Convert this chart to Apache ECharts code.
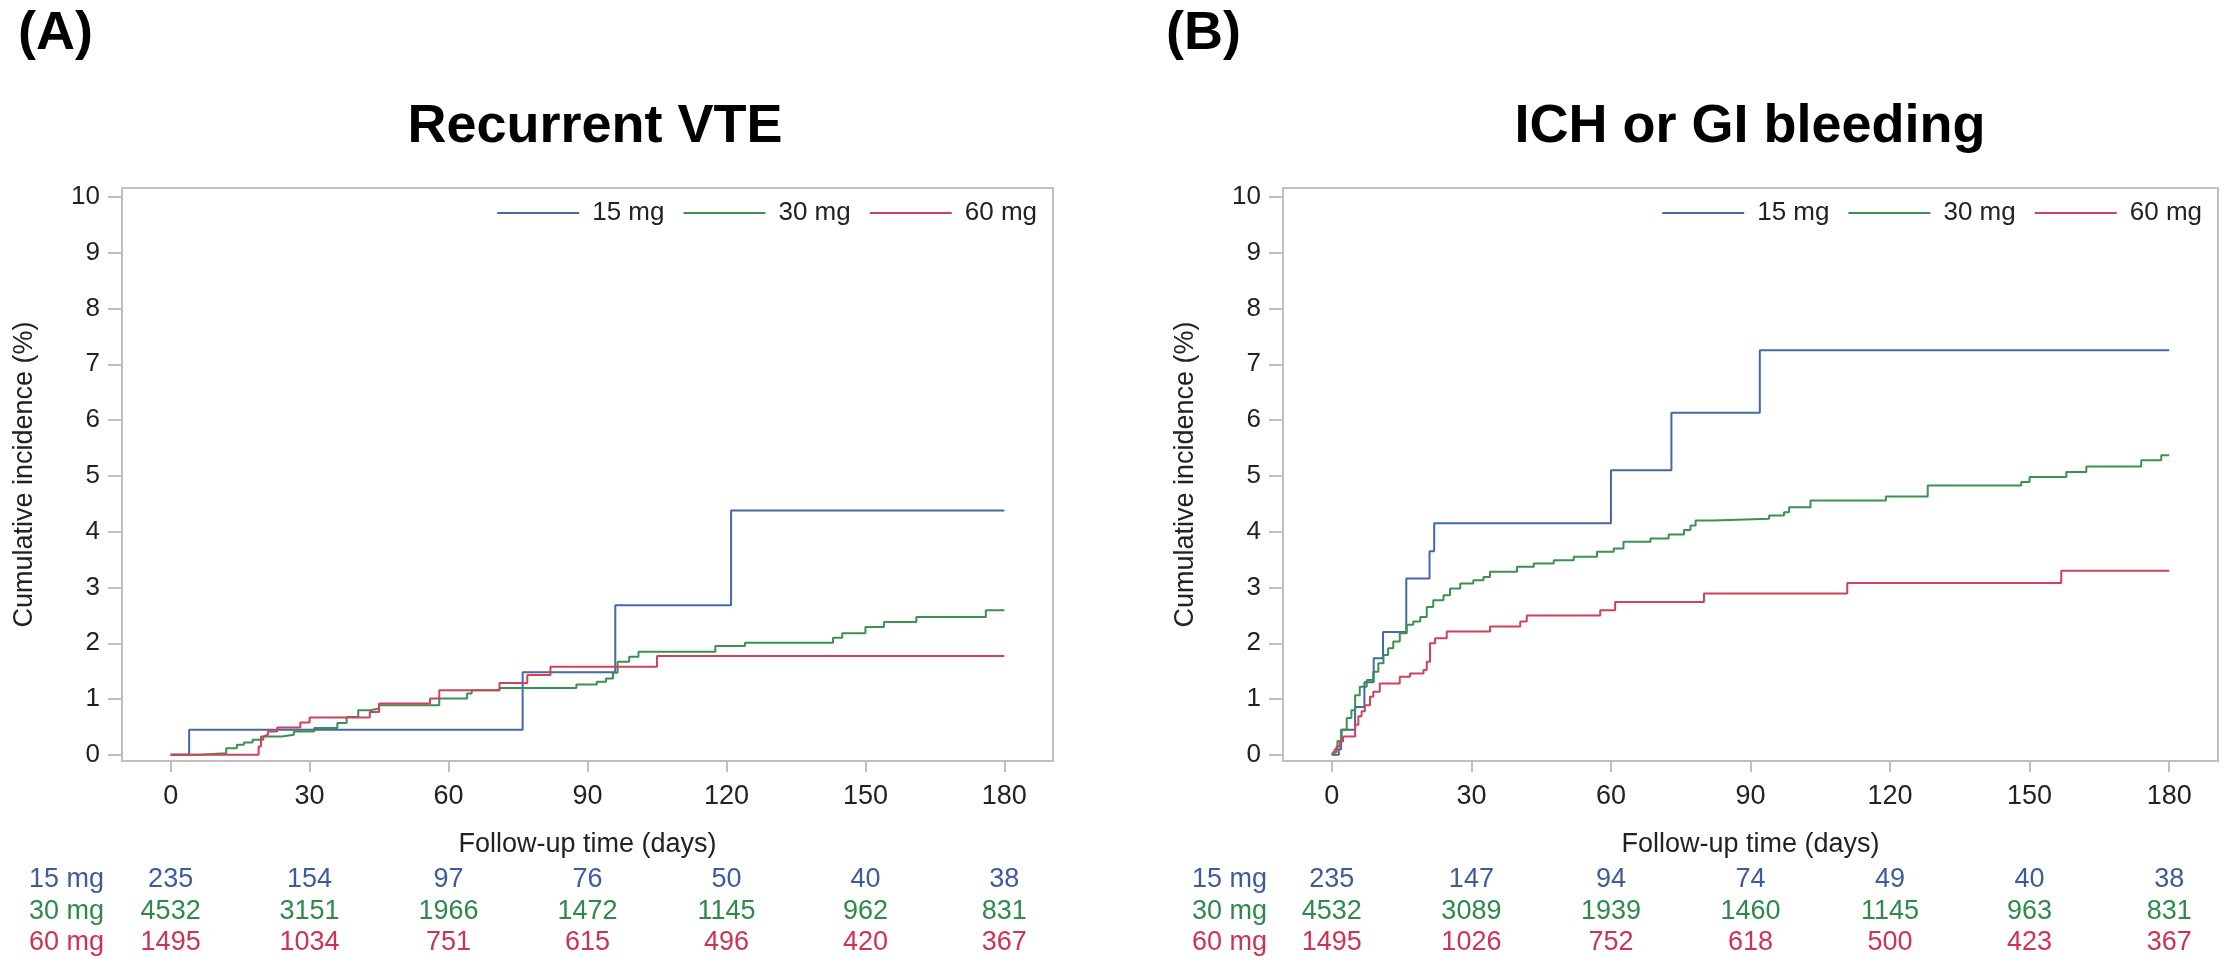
<!DOCTYPE html>
<html lang="en" style="height: 100%">
<head>
    <meta charset="UTF-8">
    <title>Cumulative incidence</title>
    <script type="text/javascript" src="https://cdn.jsdelivr.net/npm/echarts@6.0.0/dist/echarts.min.js"></script>
</head>
<body style="height: 100%;margin: 0;background:#fff">

<div id="contar" style="width: 2232px;height: 966px"></div>

<script type="text/javascript">
    // tick values
    var xTicks = [0, 30, 60, 90, 120, 150, 180];
    var yTicks = [0, 1, 2, 3, 4, 5, 6, 7, 8, 9, 10];
    var doseNames = ['15 mg', '30 mg', '60 mg'];

    // (A) Recurrent VTE  [day, %]
    var vte15 = [[0,0],[4,0.45],[76,1.48],[96,2.68],[121,4.38],[180,4.38]];
    var vte30 = [[0,0],[6,0.03],[12,0.12],[14.3,0.18],[15.8,0.22],[17.7,0.27],[20,0.33],[24,0.36],[26.6,0.42],[31,0.48],
        [36,0.57],[38,0.68],[40.5,0.8],[43,0.83],[45,0.89],[58,1.01],[64,1.1],[65,1.16],[71,1.2],[87.6,1.26],[92,1.31],
        [94,1.37],[95.5,1.47],[96.5,1.67],[99,1.76],[101,1.85],[117.6,1.95],[124,2.01],[143,2.1],[145,2.18],[150,2.29],
        [154,2.38],[161,2.47],[176,2.59],[180,2.59]];
    var vte60 = [[0,0],[19,0.15],[19.5,0.33],[20.1,0.36],[21,0.42],[23,0.49],[28,0.58],[30,0.67],[43,0.77],[45,0.92],
        [56,1.01],[58,1.16],[71,1.29],[77,1.43],[82,1.58],[105,1.77],[180,1.77]];

    // (B) ICH or GI bleeding  [day, %]
    var ich15 = [[0,0],[1.5,0.1],[2,0.45],[5,0.86],[7,1.3],[9,1.73],[11,2.2],[16,3.16],[21,3.65],[22,4.15],
        [60,5.1],[73,6.13],[92,7.25],[180,7.25]];
    var ich30 = [[0,0],[0.6,0.1],[1.2,0.25],[2.1,0.45],[3.2,0.66],[4.2,0.8],[5,1.07],[6,1.22],[7.5,1.34],[8.9,1.49],
        [10,1.64],[11.1,1.79],[12.1,1.91],[13.2,2.03],[14.6,2.18],[16.1,2.33],[17.5,2.39],[19,2.47],[20.4,2.65],
        [21.8,2.77],[24,2.86],[25.4,2.98],[27.6,3.07],[30.4,3.13],[32.6,3.19],[34,3.28],[39.8,3.37],[43.4,3.43],
        [47.7,3.49],[52,3.55],[57,3.64],[60.6,3.7],[62.7,3.82],[68.5,3.88],[72.4,3.95],[75.7,4.03],[77.1,4.11],
        [78.2,4.2],[82.1,4.23],[94,4.29],[97.2,4.35],[98.3,4.44],[102.9,4.56],[119.1,4.63],[128.1,4.83],[148.2,4.89],
        [150,4.98],[157.9,5.07],[162.2,5.17],[174,5.28],[178.3,5.37],[180,5.37]];
    var ich60 = [[0,0],[0.3,0.05],[1,0.15],[1.7,0.24],[2.4,0.33],[5,0.54],[5.7,0.69],[6.4,0.78],[7.1,0.89],[8.2,1.04],
        [8.9,1.13],[10.3,1.28],[14.6,1.4],[16.8,1.46],[19.7,1.52],[20.4,1.67],[21.1,2.0],[22.2,2.09],[24.7,2.21],
        [34,2.3],[40.5,2.39],[41.9,2.5],[57.7,2.59],[60.9,2.74],[80,2.89],[110.8,3.08],[156.8,3.3],[180,3.3]];

    // number at risk
    var riskA15 = [235, 154, 97, 76, 50, 40, 38];
    var riskA30 = [4532, 3151, 1966, 1472, 1145, 962, 831];
    var riskA60 = [1495, 1034, 751, 615, 496, 420, 367];
    var riskB15 = [235, 147, 94, 74, 49, 40, 38];
    var riskB30 = [4532, 3089, 1939, 1460, 1145, 963, 831];
    var riskB60 = [1495, 1026, 752, 618, 500, 423, 367];

    var lineColors = ['#4468A8', '#3A9150', '#D2415A'];
    var textColors = ['#3D5C9C', '#2E8A4B', '#CF3351'];
    var frameColor = '#BFBFBF';
    var fontFam = 'Liberation Sans, Arial, sans-serif';
    var rowOffsets = [119, 151, 182];

    var grids = [
        {left: 122, top: 188, width: 931, height: 573, show: true, borderColor: frameColor, borderWidth: 2},
        {left: 1283, top: 188, width: 935, height: 573, show: true, borderColor: frameColor, borderWidth: 2}
    ];

    function mainX(g) {
        return {
            gridIndex: g, type: 'value', min: -10.5, max: 190.5, position: 'bottom',
            axisLine: {show: true, onZero: false, lineStyle: {color: frameColor, width: 2}},
            axisTick: {show: true, customValues: xTicks, length: 11, lineStyle: {color: frameColor, width: 2}},
            axisLabel: {customValues: xTicks, fontSize: 27, color: '#222', margin: 22, fontFamily: fontFam},
            splitLine: {show: false},
            name: 'Follow-up time (days)', nameLocation: 'middle', nameGap: 70,
            nameTextStyle: {fontSize: 27, color: '#222', fontFamily: fontFam}
        };
    }

    function riskX(g, r, counts) {
        return {
            gridIndex: g, type: 'value', min: -10.5, max: 190.5, position: 'bottom', offset: rowOffsets[r],
            axisLine: {show: false, onZero: false}, axisTick: {show: false}, splitLine: {show: false},
            axisLabel: {
                customValues: xTicks, margin: 0, verticalAlign: 'middle', fontSize: 27,
                color: textColors[r], fontFamily: fontFam,
                formatter: function (v) { return String(counts[Math.round(v / 30)]); }
            },
            name: doseNames[r], nameLocation: 'start', nameGap: g === 0 ? 18 : 16,
            nameTextStyle: {fontSize: 27, color: textColors[r], fontFamily: fontFam}
        };
    }

    function mainY(g) {
        return {
            gridIndex: g, type: 'value', min: -0.11, max: 10.16,
            axisLine: {show: true, onZero: false, lineStyle: {color: frameColor, width: 2}},
            axisTick: {show: true, customValues: yTicks, length: 14, lineStyle: {color: frameColor, width: 2}},
            axisLabel: {customValues: yTicks, fontSize: 26, color: '#222', margin: 22, fontFamily: fontFam},
            splitLine: {show: false},
            name: 'Cumulative incidence (%)', nameLocation: 'middle', nameGap: 84,
            nameTextStyle: {fontSize: 27, color: '#222', fontFamily: fontFam}
        };
    }

    function curve(name, data, xi, yi, c) {
        return {
            name: name, type: 'line', step: 'end', data: data, xAxisIndex: xi, yAxisIndex: yi,
            showSymbol: false, symbol: 'none', animation: false,
            lineStyle: {color: lineColors[c], width: 2}, itemStyle: {color: lineColors[c]}
        };
    }

    function legendAt(right) {
        return {
            right: right, top: 200, orient: 'horizontal', icon: 'rect', itemWidth: 82, itemHeight: 2,
            itemGap: 19, padding: 0, data: doseNames, selectedMode: false,
            textStyle: {fontSize: 26, color: '#222', fontFamily: fontFam, padding: [0, 0, 0, 8]}
        };
    }

    var chart = echarts.init(document.getElementById('contar'));
    var option = {
        backgroundColor: '#fff',
        animation: false,
        grid: grids,
        legend: [legendAt(1195), legendAt(30)],
        xAxis: [
            mainX(0), riskX(0, 0, riskA15), riskX(0, 1, riskA30), riskX(0, 2, riskA60),
            mainX(1), riskX(1, 0, riskB15), riskX(1, 1, riskB30), riskX(1, 2, riskB60)
        ],
        yAxis: [mainY(0), mainY(1)],
        series: [
            curve('15 mg', vte15, 0, 0, 0), curve('30 mg', vte30, 0, 0, 1), curve('60 mg', vte60, 0, 0, 2),
            curve('15 mg', ich15, 4, 1, 0), curve('30 mg', ich30, 4, 1, 1), curve('60 mg', ich60, 4, 1, 2)
        ],
        graphic: [
            {type: 'text', x: 18, y: 34, style: {text: '(A)', font: 'bold 54px ' + fontFam, fill: '#000', textVerticalAlign: 'middle'}},
            {type: 'text', x: 1166, y: 34, style: {text: '(B)', font: 'bold 54px ' + fontFam, fill: '#000', textVerticalAlign: 'middle'}},
            {type: 'text', x: 595, y: 127, style: {text: 'Recurrent VTE', font: 'bold 54px ' + fontFam, fill: '#000', textAlign: 'center', textVerticalAlign: 'middle'}},
            {type: 'text', x: 1750, y: 127, style: {text: 'ICH or GI bleeding', font: 'bold 54px ' + fontFam, fill: '#000', textAlign: 'center', textVerticalAlign: 'middle'}}
        ]
    };
    chart.setOption(option);
</script>

</body>
</html>
